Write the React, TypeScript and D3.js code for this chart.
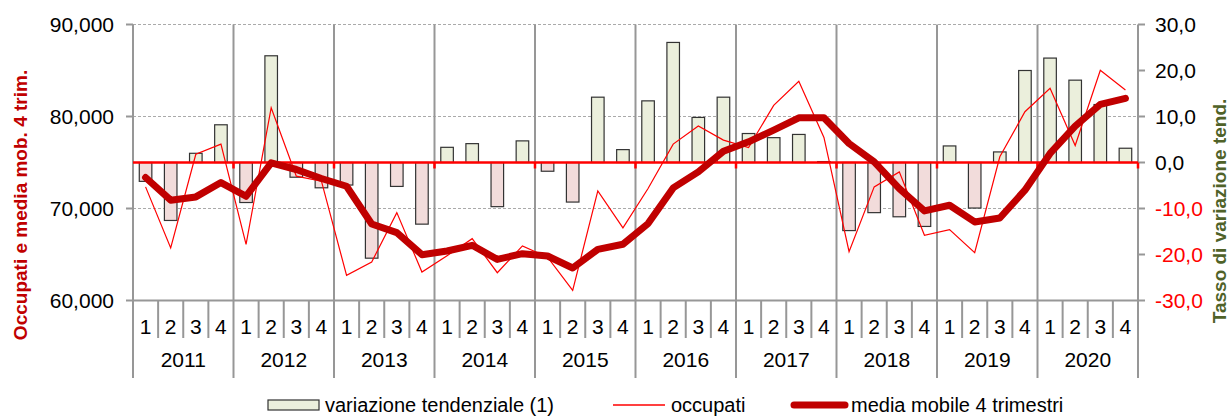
import React from 'react'
import * as d3 from 'd3'

// dati trimestrali 2011-2020
const years = ['2011', '2012', '2013', '2014', '2015', '2016', '2017', '2018', '2019', '2020']
const quarters = ['1', '2', '3', '4']

// variazione tendenziale (%)
const variazione = [
  -4.1, -12.6, 2.0, 8.2,
  -8.7, 23.2, -3.2, -5.5,
  -4.9, -20.8, -5.2, -13.4,
  3.3, 4.1, -9.6, 4.7,
  -1.9, -8.6, 14.2, 2.8,
  13.4, 26.1, 9.8, 14.2,
  6.3, 5.4, 6.1, 0.2,
  -14.8, -10.9, -11.8, -13.9,
  3.6, -9.9, 2.3, 20.0,
  22.7, 17.9, 12.6, 3.1,
]

// occupati
const occupati = [
  72350, 65710, 75900, 77000,
  66110, 80950, 73510, 72970,
  62730, 64180, 69550, 63090,
  64870, 66720, 63020, 65930,
  64700, 61100, 71910, 67890,
  72170, 77000, 78960, 77430,
  76630, 81210, 83820, 77720,
  65310, 72350, 73980, 67090,
  67700, 65200, 75620, 80520,
  83060, 76850, 85020, 82880,
]

// media mobile 4 trimestri
const mediaMobile = [
  73370, 70900, 71260, 72820,
  71330, 74960, 74240, 73260,
  72420, 68320, 67380, 64980,
  65380, 66000, 64470, 65090,
  64840, 63530, 65560, 66110,
  68360, 72240, 73980, 76230,
  77250, 78520, 79860, 79860,
  77070, 75070, 72170, 69740,
  70350, 68540, 68970, 71990,
  75980, 78960, 81320, 81970,
]

const leftTicks = [60000, 70000, 80000, 90000]
const rightTicks = [-30, -20, -10, 0, 10, 20, 30]

const W = 1230
const H = 417
const left = 133
const right = 1138
const top = 24.5
const bottom = 300.5
const font = '"Liberation Sans", Arial, sans-serif'
const grey = '#979797'

export default function App() {
  const idx = d3.range(years.length * quarters.length)
  const x = d3.scaleBand<number>()
    .domain(idx)
    .range([left, right])
    .paddingInner(0.5)
    .paddingOuter(0.25)
  const step = x.step()
  const cx = (i: number) => (x(i) as number) + x.bandwidth() / 2

  const yL = d3.scaleLinear().domain([60000, 90000]).range([bottom, top])
  const yR = d3.scaleLinear().domain([-30, 30]).range([bottom, top])

  const line = d3.line<number>()
    .x((d, i) => cx(i))
    .y(d => yL(d))

  const fmtL = d3.format(',')
  const fmtR = (v: number) => v.toFixed(1).replace('.', ',')

  const yearX = (k: number) => left + k * step * 4
  const legY = 405

  return (
    <svg width={W} height={H} style={{ position: 'absolute', left: 0, top: 0, fontFamily: font }}>
      <rect width={W} height={H} fill="#fff" />

      {/* griglia orizzontale */}
      {leftTicks.filter(t => t > 60000).map(t => (
        <line key={t} x1={left} x2={right} y1={yL(t)} y2={yL(t)}
          stroke="#aaa" strokeDasharray="3,2" strokeWidth={1} />
      ))}

      {/* separatori anni */}
      {d3.range(years.length + 1).map(k => (
        <line key={k} x1={yearX(k)} x2={yearX(k)} y1={top} y2={378}
          stroke={grey} strokeWidth={2} />
      ))}

      {/* separatori trimestri */}
      {idx.filter(i => i % 4 !== 0).map(i => (
        <line key={i} x1={left + i * step} x2={left + i * step} y1={bottom} y2={338}
          stroke={grey} strokeWidth={2} />
      ))}

      {/* asse x */}
      <line x1={left} x2={right} y1={bottom} y2={bottom} stroke={grey} strokeWidth={2} />

      {/* asse sinistro */}
      {leftTicks.map(t => (
        <g key={t}>
          <line x1={left - 7} x2={left} y1={yL(t)} y2={yL(t)} stroke={grey} strokeWidth={2} />
          <text x={114} y={yL(t)} dy="0.36em" textAnchor="end" fontSize={21} fill="#000">{fmtL(t)}</text>
        </g>
      ))}

      {/* asse destro */}
      {rightTicks.map(t => (
        <g key={t}>
          <line x1={right} x2={right + 7} y1={yR(t)} y2={yR(t)} stroke={grey} strokeWidth={2} />
          <text x={1155} y={yR(t)} dy="0.36em" textAnchor="start" fontSize={21}
            fill={t < 0 ? '#ff0000' : '#000'}>{fmtR(t)}</text>
        </g>
      ))}

      {/* barre */}
      {variazione.map((v, i) => (
        <rect key={i} x={x(i)} width={x.bandwidth()}
          y={Math.min(yR(v), yR(0))} height={Math.abs(yR(v) - yR(0))}
          fill={v >= 0 ? '#ebefdc' : '#f2dcdb'} stroke="#333" strokeWidth={1.2} />
      ))}

      {/* linea dello zero */}
      <line x1={left} x2={right} y1={yR(0)} y2={yR(0)} stroke="#ff0000" strokeWidth={2.5} />
      {d3.range(1, years.length + 1).map(k => (
        <line key={k} x1={yearX(k)} x2={yearX(k)} y1={yR(0)} y2={yR(0) + 6}
          stroke="#ff0000" strokeWidth={2.5} />
      ))}

      {/* occupati */}
      <path d={line(occupati) || ''} fill="none" stroke="#ff0000" strokeWidth={1.2} />
      {/* media mobile */}
      <path d={line(mediaMobile) || ''} fill="none" stroke="#c00000" strokeWidth={7}
        strokeLinejoin="round" strokeLinecap="round" />

      {/* etichette asse x */}
      {idx.map(i => (
        <text key={i} x={cx(i)} y={334} textAnchor="middle" fontSize={21} fill="#000">
          {quarters[i % 4]}
        </text>
      ))}
      {years.map((yr, k) => (
        <text key={yr} x={yearX(k) + step * 2} y={367} textAnchor="middle" fontSize={21} fill="#000">
          {yr}
        </text>
      ))}

      {/* titoli assi */}
      <text transform="translate(27,205) rotate(-90)" textAnchor="middle" fontSize={19}
        fontWeight="bold" fill="#c00000">Occupati e media mob. 4 trim.</text>
      <text transform="translate(1226,211) rotate(-90)" textAnchor="middle" fontSize={19}
        fontWeight="bold" fill="#4f6228">Tasso di variazione tend.</text>

      {/* legenda */}
      <g>
        <rect x={268} y={legY - 5} width={51} height={10} fill="#ebefdc" stroke="#333" strokeWidth={1.2} />
        <text x={325} y={legY} dy="0.34em" fontSize={20}>variazione tendenziale (1)</text>
        <line x1={613} x2={665} y1={legY} y2={legY} stroke="#ff0000" strokeWidth={1.5} />
        <text x={671} y={legY} dy="0.34em" fontSize={20}>occupati</text>
        <line x1={794} x2={845} y1={legY} y2={legY} stroke="#c00000" strokeWidth={7} strokeLinecap="round" />
        <text x={851} y={legY} dy="0.34em" fontSize={20}>media mobile 4 trimestri</text>
      </g>
    </svg>
  )
}
